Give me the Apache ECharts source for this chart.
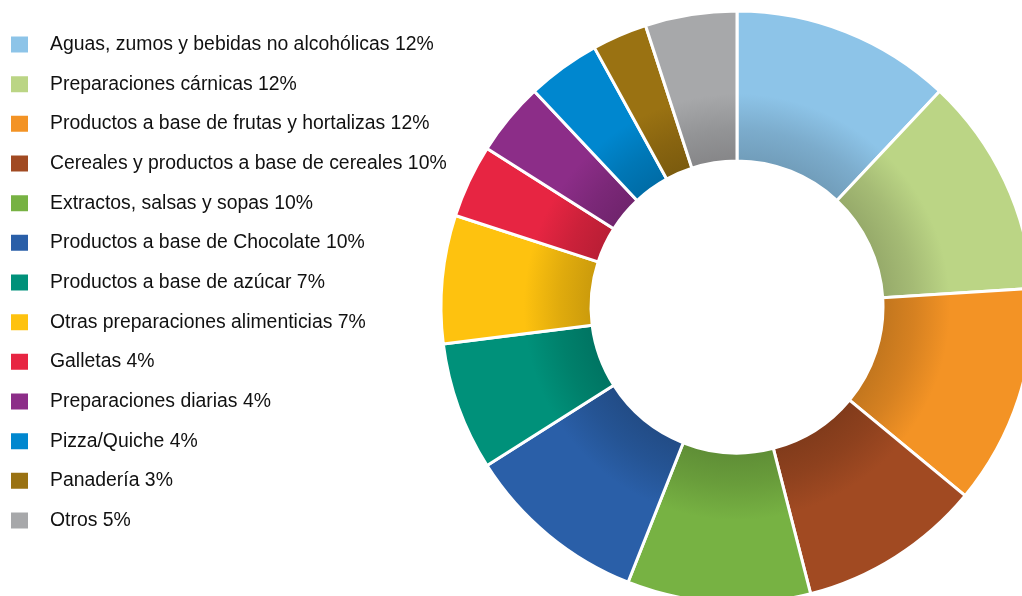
<!DOCTYPE html>
<html>
<head>
<meta charset="utf-8">
<script src="https://cdn.jsdelivr.net/npm/echarts@6/dist/echarts.min.js"></script>
<style>
  html, body { margin: 0; padding: 0; background: #fff; }
  #main { width: 1022px; height: 596px; }
</style>
</head>
<body>
<div id="main"></div>
<script>
// datos del gráfico
let categorias = [
  'Aguas, zumos y bebidas no alcohólicas',
  'Preparaciones cárnicas',
  'Productos a base de frutas y hortalizas',
  'Cereales y productos a base de cereales',
  'Extractos, salsas y sopas',
  'Productos a base de Chocolate',
  'Productos a base de azúcar',
  'Otras preparaciones alimenticias',
  'Galletas',
  'Preparaciones diarias',
  'Pizza/Quiche',
  'Panadería',
  'Otros'
]
let porcentajes = [12, 12, 12, 10, 10, 10, 7, 7, 4, 4, 4, 3, 5]
let colores = ['#8DC4E8', '#BBD585', '#F39325', '#A14A22', '#77B243', '#2A5FA8',
  '#00917A', '#FEC20F', '#E72542', '#8C2D88', '#0087CF', '#9A7212', '#A7A8AA']

let cx = 737, cy = 307, rOut = 296, rIn = 146

// oscurecer un color hex
function oscurecer(hex, f) {
  let n = parseInt(hex.slice(1), 16)
  let r = Math.round(((n >> 16) & 255) * f)
  let g = Math.round(((n >> 8) & 255) * f)
  let b = Math.round((n & 255) * f)
  return 'rgb(' + r + ',' + g + ',' + b + ')'
}

let data = categorias.map((c, i) => ({
  name: c,
  value: porcentajes[i],
  itemStyle: {
    color: {
      type: 'radial', x: cx, y: cy, r: rOut, global: true,
      colorStops: [
        { offset: 0, color: oscurecer(colores[i], 0.8) },
        { offset: rIn / rOut, color: oscurecer(colores[i], 0.8) },
        { offset: 0.6, color: oscurecer(colores[i], 0.88) },
        { offset: 0.72, color: colores[i] },
        { offset: 1, color: colores[i] }
      ]
    }
  }
}))

let myChart = echarts.init(document.getElementById('main'))

let option = {
  animation: false,
  legend: {
    orient: 'vertical',
    left: 9,
    top: 34.5,
    padding: 0,
    itemWidth: 19,
    itemHeight: 18,
    itemGap: 19.67,
    icon: 'rect',
    data: categorias.map((c, i) => ({ name: c, itemStyle: { color: colores[i] } })),
    formatter: name => name + ' ' + porcentajes[categorias.indexOf(name)] + '%',
    textStyle: {
      fontFamily: 'Liberation Sans, Arial, sans-serif',
      fontSize: 19.4,
      color: '#111',
      padding: [0, 0, 0, 16]
    }
  },
  series: [
    {
      type: 'pie',
      center: [cx, cy],
      radius: [rIn, rOut],
      startAngle: 90,
      clockwise: true,
      label: { show: false },
      labelLine: { show: false },
      emphasis: { disabled: true },
      itemStyle: { borderColor: '#fff', borderWidth: 3 },
      data: data
    }
  ]
}

myChart.setOption(option)
</script>
</body>
</html>
